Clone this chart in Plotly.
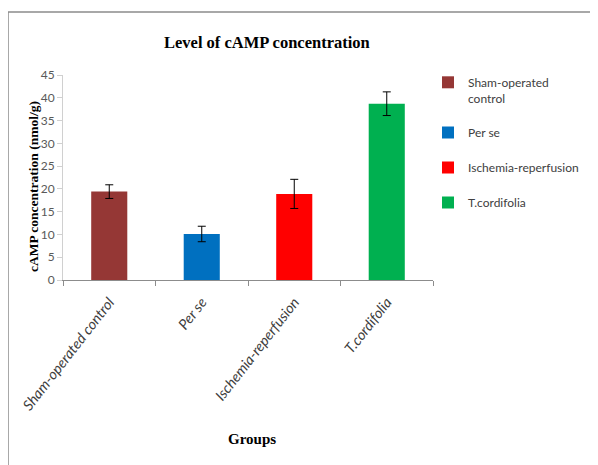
import plotly.graph_objects as go

groups = ["Sham-operated control", "Per se", "Ischemia-reperfusion", "T.cordifolia"]
legend_names = ["Sham-operated<br>control", "Per se", "Ischemia-reperfusion", "T.cordifolia"]
values = [19.4, 10.1, 18.9, 38.7]
errors = [1.5, 1.7, 3.2, 2.6]
colors = ["#953735", "#0070C0", "#FF0000", "#00B050"]
y_ticks = [0, 5, 10, 15, 20, 25, 30, 35, 40, 45]

# page body has an 8px margin; work in screenshot pixels and convert
OFF = 8
W, H = 598 - OFF, 465 - OFF
L, T = 63 - OFF, 75 - OFF
pw, ph = 370, 205
R, B = W - L - pw, H - T - ph

def px_x(sx):
    return (sx - OFF - L) / pw

def px_y(sy):
    return (T + ph - (sy - OFF)) / ph

sans = "Lato, Open Sans, sans-serif"
serif = "Liberation Serif, Times New Roman, serif"

fig = go.Figure()
for g, n, v, e, c in zip(groups, legend_names, values, errors, colors):
    fig.add_trace(go.Bar(
        x=[g], y=[v], name=n, width=0.39,
        marker=dict(color=c, line=dict(width=0)),
        error_y=dict(type="data", array=[e], color="black", thickness=1, width=4),
        legendgroup=g,
    ))

fig.update_layout(
    width=W, height=H,
    margin=dict(l=L, r=R, t=T, b=B, autoexpand=False),
    paper_bgcolor="white", plot_bgcolor="white",
    barmode="overlay",
    showlegend=True,
    legend=dict(
        x=px_x(428), y=px_y(68), xanchor="left", yanchor="top",
        font=dict(family=sans, size=12, color="#404040"),
        tracegroupgap=16, itemwidth=30, traceorder="grouped", valign="top",
        bgcolor="rgba(0,0,0,0)",
    ),
    xaxis=dict(
        categoryorder="array", categoryarray=groups,
        showline=True, linecolor="#8C8C8C", linewidth=1,
        ticks="outside", tickson="boundaries", ticklen=5, tickcolor="#8C8C8C",
        tickangle=-52, ticklabelstandoff=7,
        tickfont=dict(family=sans, size=14.5, color="#404040", style="italic"),
        showgrid=False, zeroline=False,
    ),
    yaxis=dict(
        range=[0, 45], tickvals=y_ticks,
        showline=True, linecolor="#D0D0D0", linewidth=1,
        ticks="outside", ticklen=5, tickcolor="#D0D0D0",
        ticklabelstandoff=0,
        tickfont=dict(family=sans, size=12, color="#595959"),
        showgrid=False, zeroline=False,
    ),
    annotations=[
        dict(text="<b>Level of cAMP concentration</b>", xref="paper", yref="paper",
             x=px_x(267), y=px_y(42), xanchor="center", yanchor="middle",
             showarrow=False, font=dict(family=serif, size=16.5, color="black")),
        dict(text="<b>cAMP concentration (nmol/g)</b>", xref="paper", yref="paper",
             x=px_x(33), y=px_y(187), xanchor="center", yanchor="middle", textangle=-90,
             showarrow=False, font=dict(family=serif, size=13.5, color="black")),
        dict(text="<b>Groups</b>", xref="paper", yref="paper",
             x=px_x(252), y=px_y(439), xanchor="center", yanchor="middle",
             showarrow=False, font=dict(family=serif, size=15, color="black")),
    ],
    shapes=[
        dict(type="rect", xref="paper", yref="paper",
             x0=px_x(8), x1=px_x(640), y0=px_y(12), y1=px_y(500),
             line=dict(color="#8C8C8C", width=1.5), fillcolor="rgba(0,0,0,0)", layer="below"),
    ],
)

fig.write_html("out.html")
